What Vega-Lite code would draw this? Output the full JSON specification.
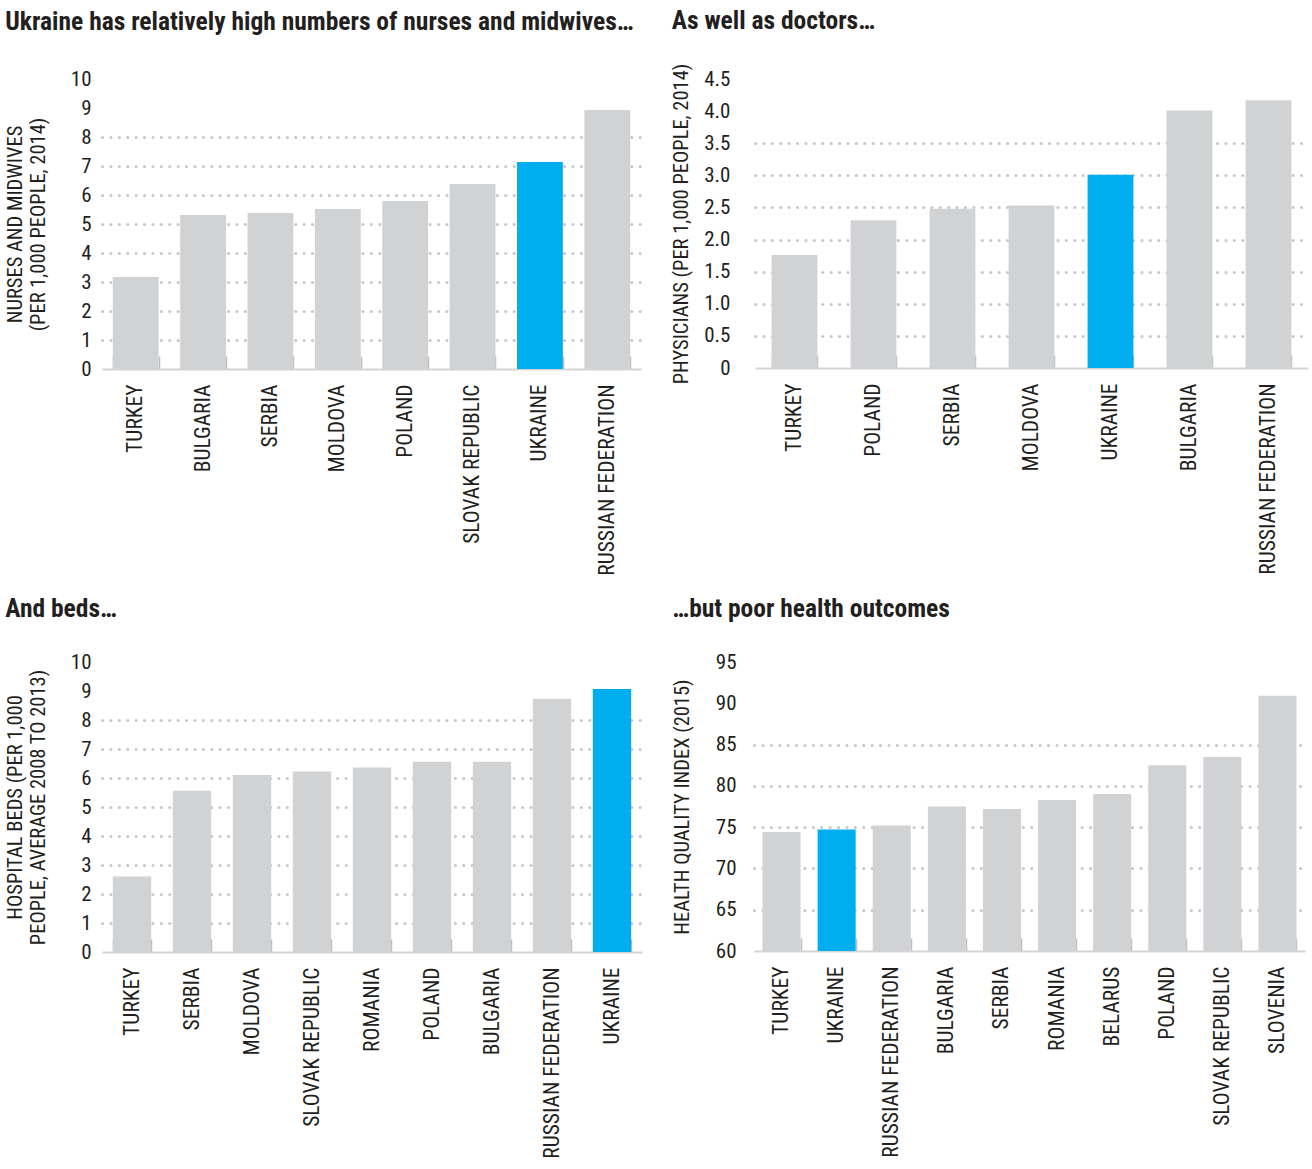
{
  "$schema": "https://vega.github.io/schema/vega-lite/v6.json",
  "background": "white",
  "padding": {"left": 5, "top": 8, "right": 5, "bottom": 0},
  "datasets": {
    "nurses": [
      {"country": "TURKEY", "value": 3.17},
      {"country": "BULGARIA", "value": 5.31},
      {"country": "SERBIA", "value": 5.38},
      {"country": "MOLDOVA", "value": 5.52},
      {"country": "POLAND", "value": 5.79},
      {"country": "SLOVAK REPUBLIC", "value": 6.38},
      {"country": "UKRAINE", "value": 7.14},
      {"country": "RUSSIAN FEDERATION", "value": 8.93}
    ],
    "doctors": [
      {"country": "TURKEY", "value": 1.76},
      {"country": "POLAND", "value": 2.3},
      {"country": "SERBIA", "value": 2.48},
      {"country": "MOLDOVA", "value": 2.53},
      {"country": "UKRAINE", "value": 3.01},
      {"country": "BULGARIA", "value": 4.01},
      {"country": "RUSSIAN FEDERATION", "value": 4.17}
    ],
    "beds": [
      {"country": "TURKEY", "value": 2.6},
      {"country": "SERBIA", "value": 5.56},
      {"country": "MOLDOVA", "value": 6.1},
      {"country": "SLOVAK REPUBLIC", "value": 6.22},
      {"country": "ROMANIA", "value": 6.36},
      {"country": "POLAND", "value": 6.56},
      {"country": "BULGARIA", "value": 6.56},
      {"country": "RUSSIAN FEDERATION", "value": 8.73},
      {"country": "UKRAINE", "value": 9.07}
    ],
    "health": [
      {"country": "TURKEY", "value": 74.4},
      {"country": "UKRAINE", "value": 74.7},
      {"country": "RUSSIAN FEDERATION", "value": 75.2},
      {"country": "BULGARIA", "value": 77.5},
      {"country": "SERBIA", "value": 77.2},
      {"country": "ROMANIA", "value": 78.3},
      {"country": "BELARUS", "value": 79.0},
      {"country": "POLAND", "value": 82.5},
      {"country": "SLOVAK REPUBLIC", "value": 83.5},
      {"country": "SLOVENIA", "value": 90.9}
    ]
  },
  "config": {
    "view": {"stroke": null},
    "font": "Roboto Condensed, DejaVu Sans Condensed, sans-serif",
    "title": {"font": "Roboto Condensed, DejaVu Sans Condensed, sans-serif", "fontSize": 25.5, "fontWeight": "bold", "color": "#231f20", "anchor": "start", "frame": "bounds"},
    "axis": {"labelFont": "Roboto Condensed, DejaVu Sans Condensed, sans-serif", "titleFont": "Roboto Condensed, DejaVu Sans Condensed, sans-serif", "labelColor": "#231f20", "titleColor": "#231f20", "titleFontWeight": "normal", "labelLimit": 0},
    "axisX": {"labelAngle": -90, "labelFontSize": 21.5, "domainColor": "#d4d4d4", "domainWidth": 2, "ticks": true, "tickColor": "#bdbdbd", "tickWidth": 1.5, "tickSize": -13, "tickBand": "extent", "labelPadding": 28, "title": null, "grid": false, "zindex": 1},
    "axisY": {"labelFontSize": 21, "domain": false, "ticks": false, "titleFontSize": 20.5, "gridColor": "#c8c8c8", "gridDash": [0.1, 8.3], "gridCap": "round", "gridWidth": 3, "titleLineHeight": 23},
    "bar": {"color": "#d1d2d4"}
  },
  "vconcat": [
    {
      "hconcat": [
        {
          "title": {"text": "Ukraine has relatively high numbers of nurses and midwives…", "offset": 33},
          "data": {"name": "nurses"},
          "width": 539, "height": 290,
          "mark": {"type": "bar"},
          "encoding": {
            "x": {"field": "country", "type": "nominal", "sort": ["TURKEY", "BULGARIA", "SERBIA", "MOLDOVA", "POLAND", "SLOVAK REPUBLIC", "UKRAINE", "RUSSIAN FEDERATION"], "scale": {"paddingInner": 0.32, "paddingOuter": 0.16}},
            "y": {"field": "value", "type": "quantitative", "scale": {"domain": [0, 10], "nice": false}, "axis": {"title": ["NURSES AND MIDWIVES", "(PER 1,000 PEOPLE, 2014)"], "values": [0,1,2,3,4,5,6,7,8,9,10], "labelPadding": 11, "titlePadding": 22, "gridOpacity": {"condition": {"test": "datum.value >= 1 && datum.value <= 8", "value": 1}, "value": 0}}},
            "color": {"condition": {"test": "datum.country === 'UKRAINE'", "value": "#00aeef"}, "value": "#d1d2d4"}
          }
        },
        {
          "title": {"text": "As well as doctors…", "offset": 29},
          "data": {"name": "doctors"},
          "width": 553, "height": 289,
          "mark": {"type": "bar"},
          "encoding": {
            "x": {"field": "country", "type": "nominal", "sort": ["TURKEY", "POLAND", "SERBIA", "MOLDOVA", "UKRAINE", "BULGARIA", "RUSSIAN FEDERATION"], "scale": {"paddingInner": 0.42, "paddingOuter": 0.21}},
            "y": {"field": "value", "type": "quantitative", "scale": {"domain": [0, 4.5], "nice": false}, "axis": {"title": "PHYSICIANS (PER 1,000 PEOPLE, 2014)", "values": [0,0.5,1,1.5,2,2.5,3,3.5,4,4.5], "labelExpr": "datum.value === 0 ? '0' : format(datum.value, '.1f')", "labelPadding": 25, "titlePadding": 12, "gridOpacity": {"condition": {"test": "datum.value >= 0.5 && datum.value <= 3.5", "value": 1}, "value": 0}}},
            "color": {"condition": {"test": "datum.country === 'UKRAINE'", "value": "#00aeef"}, "value": "#d1d2d4"}
          }
        }
      ],
      "spacing": 30
    },
    {
      "hconcat": [
        {
          "title": {"text": "And beds…", "offset": 29},
          "data": {"name": "beds"},
          "width": 540, "height": 290,
          "mark": {"type": "bar"},
          "encoding": {
            "x": {"field": "country", "type": "nominal", "sort": ["TURKEY", "SERBIA", "MOLDOVA", "SLOVAK REPUBLIC", "ROMANIA", "POLAND", "BULGARIA", "RUSSIAN FEDERATION", "UKRAINE"], "scale": {"paddingInner": 0.36, "paddingOuter": 0.18}},
            "y": {"field": "value", "type": "quantitative", "scale": {"domain": [0, 10], "nice": false}, "axis": {"title": ["HOSPITAL BEDS (PER 1,000", "PEOPLE, AVERAGE 2008 TO 2013)"], "values": [0,1,2,3,4,5,6,7,8,9,10], "labelPadding": 11, "titlePadding": 22, "gridOpacity": {"condition": {"test": "datum.value >= 1 && datum.value <= 8", "value": 1}, "value": 0}}},
            "color": {"condition": {"test": "datum.country === 'UKRAINE'", "value": "#00aeef"}, "value": "#d1d2d4"}
          }
        },
        {
          "title": {"text": "…but poor health outcomes", "offset": 29},
          "data": {"name": "health"},
          "width": 551, "height": 289,
          "mark": {"type": "bar", "clip": true},
          "encoding": {
            "x": {"field": "country", "type": "nominal", "sort": ["TURKEY", "UKRAINE", "RUSSIAN FEDERATION", "BULGARIA", "SERBIA", "ROMANIA", "BELARUS", "POLAND", "SLOVAK REPUBLIC", "SLOVENIA"], "scale": {"paddingInner": 0.31, "paddingOuter": 0.155}},
            "y": {"field": "value", "type": "quantitative", "scale": {"domain": [60, 95], "nice": false, "zero": false}, "axis": {"title": "HEALTH QUALITY INDEX (2015)", "values": [60,65,70,75,80,85,90,95], "labelPadding": 18, "titlePadding": 23, "gridOpacity": {"condition": {"test": "datum.value >= 65 && datum.value <= 85", "value": 1}, "value": 0}}},
            "color": {"condition": {"test": "datum.country === 'UKRAINE'", "value": "#00aeef"}, "value": "#d1d2d4"}
          }
        }
      ],
      "spacing": 30
    }
  ],
  "spacing": 20
}
